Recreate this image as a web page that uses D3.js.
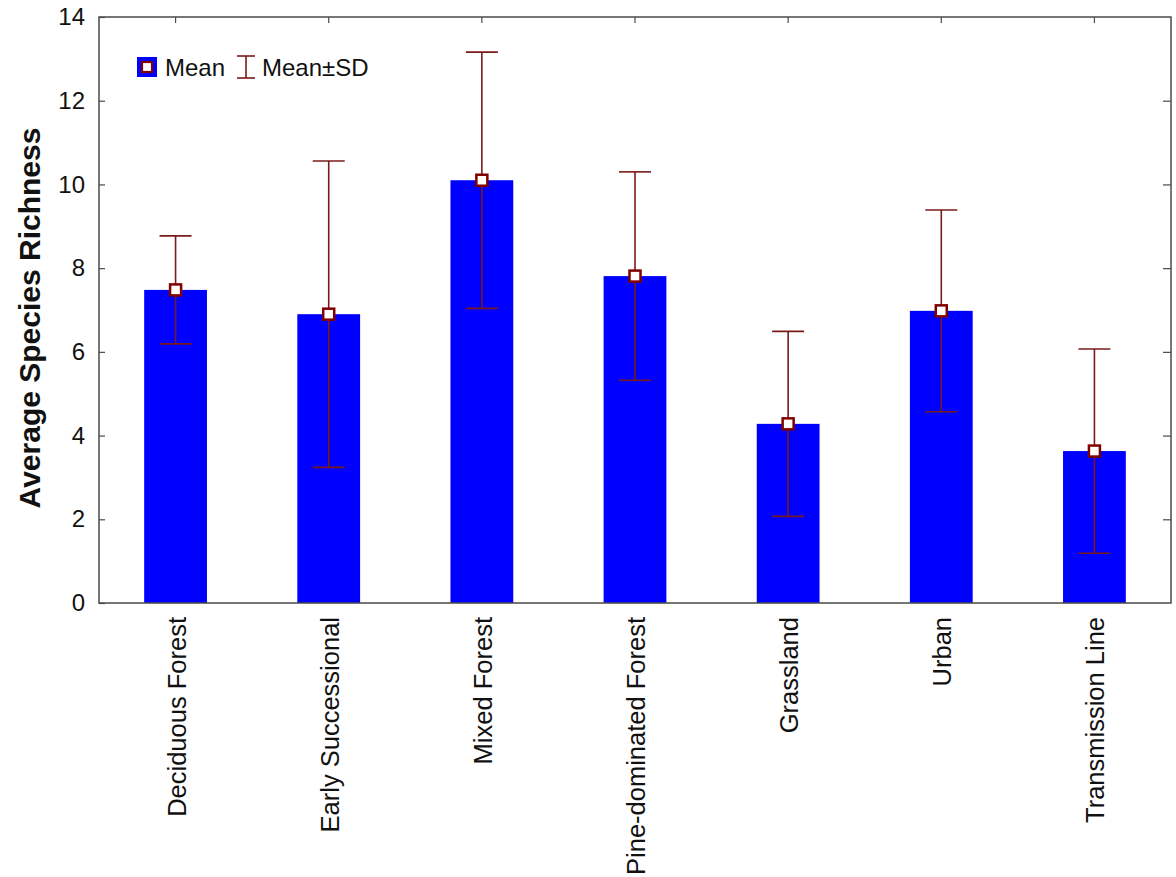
<!DOCTYPE html>
<html>
<head>
<meta charset="utf-8">
<script src="https://cdn.jsdelivr.net/npm/d3@7"></script>
<style>
  body { margin: 0; background: #fff; }
  text { font-family: "Liberation Sans", Arial, sans-serif; }
</style>
</head>
<body>
<svg id="chart" width="1176" height="877"></svg>
<script>
// habitat categories and their richness stats
const categories = ["Deciduous Forest", "Early Successional", "Mixed Forest",
  "Pine-dominated Forest", "Grassland", "Urban", "Transmission Line"];
const means = [7.48, 6.9, 10.1, 7.81, 4.28, 6.98, 3.63];
const sds = [1.29, 3.66, 3.06, 2.49, 2.21, 2.41, 2.44];
const yTicks = [0, 2, 4, 6, 8, 10, 12, 14];

const plotL = 99, plotR = 1171, plotT = 17, plotB = 603;

const svg = d3.select("#chart");

const x = d3.scaleBand().domain(categories).range([plotL, plotR]).padding(0);
const y = d3.scaleLinear().domain([0, 14]).range([plotB, plotT]);

const barW = x.bandwidth() * 0.41;
const capW = 32;
const errColor = "#7a1a1a";
const frameColor = "#4a4a4a";

const data = categories.map((c, i) => ({ cat: c, mean: means[i], sd: sds[i] }));

// bars
svg.append("g").selectAll("rect").data(data).enter().append("rect")
  .attr("x", d => x(d.cat) + x.bandwidth() / 2 - barW / 2)
  .attr("y", d => y(d.mean))
  .attr("width", barW)
  .attr("height", d => y(0) - y(d.mean))
  .attr("fill", "#0000ff");

// error bars
const err = svg.append("g").attr("stroke", errColor).attr("stroke-width", 1.6);
data.forEach(d => {
  const cx = x(d.cat) + x.bandwidth() / 2;
  err.append("line").attr("x1", cx).attr("x2", cx)
    .attr("y1", y(d.mean + d.sd)).attr("y2", y(d.mean - d.sd));
  [d.mean + d.sd, d.mean - d.sd].forEach(v => {
    err.append("line").attr("x1", cx - capW / 2).attr("x2", cx + capW / 2)
      .attr("y1", y(v)).attr("y2", y(v));
  });
});

// mean markers
svg.append("g").selectAll("rect").data(data).enter().append("rect")
  .attr("x", d => x(d.cat) + x.bandwidth() / 2 - 5.5)
  .attr("y", d => y(d.mean) - 5.5)
  .attr("width", 11).attr("height", 11)
  .attr("fill", "#fff").attr("stroke", "#800000").attr("stroke-width", 2.5);

// frame
svg.append("rect")
  .attr("x", plotL).attr("y", plotT)
  .attr("width", plotR - plotL).attr("height", plotB - plotT)
  .attr("fill", "none").attr("stroke", frameColor).attr("stroke-width", 1.5);

// left axis with inward ticks
const yAxis = svg.append("g").attr("transform", `translate(${plotL},0)`)
  .call(d3.axisLeft(y).tickValues(yTicks).tickSizeInner(-6).tickSizeOuter(0).tickPadding(14));
yAxis.select(".domain").remove();
yAxis.selectAll("line").attr("stroke", frameColor).attr("stroke-width", 1.2);
yAxis.selectAll("text").attr("font-size", 24).attr("fill", "#111")
  .style("font-family", "'Liberation Sans', Arial, sans-serif");

// right side inward ticks
const rAxis = svg.append("g").attr("transform", `translate(${plotR},0)`)
  .call(d3.axisRight(y).tickValues(yTicks.slice(1, -1)).tickSizeInner(-8).tickSizeOuter(0).tickFormat(""));
rAxis.select(".domain").remove();
rAxis.selectAll("line").attr("stroke", frameColor).attr("stroke-width", 1.2);

// top inward ticks at category centres
const tAxis = svg.append("g").attr("transform", `translate(0,${plotT})`)
  .call(d3.axisTop(x).tickSizeInner(-6).tickSizeOuter(0).tickFormat(""));
tAxis.select(".domain").remove();
tAxis.selectAll("line").attr("stroke", frameColor).attr("stroke-width", 1.2);

// category labels, rotated
svg.append("g").selectAll("text").data(categories).enter().append("text")
  .attr("transform", d => `translate(${x(d) + x.bandwidth() / 2 + 10},${plotB + 14}) rotate(-90)`)
  .attr("text-anchor", "end")
  .attr("font-size", 25.5)
  .attr("fill", "#111")
  .text(d => d);

// y axis title
svg.append("text")
  .attr("transform", `translate(40,${(plotT + plotB) / 2 + 8}) rotate(-90)`)
  .attr("text-anchor", "middle")
  .attr("font-size", 30)
  .attr("font-weight", "bold")
  .attr("fill", "#111")
  .text("Average Species Richness");

// legend
const lg = svg.append("g");
lg.append("rect").attr("x", 137).attr("y", 57).attr("width", 20).attr("height", 20).attr("fill", "#0000ff");
lg.append("rect").attr("x", 142).attr("y", 62).attr("width", 10).attr("height", 10)
  .attr("fill", "#fff").attr("stroke", "#800000").attr("stroke-width", 2.2);
lg.append("text").attr("x", 165).attr("y", 76).attr("font-size", 24).attr("fill", "#111").text("Mean");
const ex = 246;
lg.append("line").attr("x1", ex).attr("x2", ex).attr("y1", 56).attr("y2", 78).attr("stroke", errColor).attr("stroke-width", 1.6);
lg.append("line").attr("x1", ex - 9).attr("x2", ex + 9).attr("y1", 56).attr("y2", 56).attr("stroke", errColor).attr("stroke-width", 1.6);
lg.append("line").attr("x1", ex - 9).attr("x2", ex + 9).attr("y1", 78).attr("y2", 78).attr("stroke", errColor).attr("stroke-width", 1.6);
lg.append("text").attr("x", 262).attr("y", 76).attr("font-size", 24).attr("fill", "#111").text("Mean±SD");
</script>
</body>
</html>
